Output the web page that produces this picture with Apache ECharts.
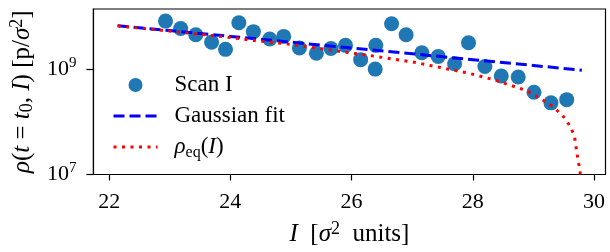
<!DOCTYPE html>
<html>
<head>
<meta charset="utf-8">
<script src="https://cdn.jsdelivr.net/npm/echarts@6/dist/echarts.min.js"></script>
<style>
  html, body { margin: 0; padding: 0; background: #fff; }
  #chart { width: 610px; height: 252px; }
</style>
</head>
<body>
<div id="chart"></div>
<script>
// Scan I measurements (I in sigma^2 units, rho in p/sigma^2)
var scanX = [22.93, 23.18, 23.43, 23.69, 23.92, 24.14, 24.38, 24.65, 24.88, 25.14,
  25.42, 25.66, 25.90, 26.15, 26.40, 26.39, 26.66, 26.90, 27.16, 27.43,
  27.70, 27.93, 28.20, 28.47, 28.75, 29.01, 29.29, 29.55];
var scanY = [8.13e9, 5.89e9, 4.47e9, 3.24e9, 2.37e9, 7.59e9, 5.13e9, 3.72e9, 4.17e9, 2.51e9,
  2.0e9, 2.45e9, 2.82e9, 1.51e9, 2.82e9, 1.0e9, 7.24e9, 4.47e9, 2.04e9, 1.74e9,
  1.26e9, 3.16e9, 1.12e9, 7.41e8, 7.08e8, 3.63e8, 2.29e8, 2.63e8];

// Gaussian fit curve
var fitX = [22.14, 23, 24, 25, 26, 27, 28, 29, 29.8];
var fitY = [6.61e9, 5.37e9, 4.17e9, 3.24e9, 2.51e9, 1.95e9, 1.51e9, 1.17e9, 9.55e8];

// rho_eq(I) curve
var eqX = [22.14, 23, 24, 24.33, 25, 25.71, 26.4, 27.08, 27.3, 27.9, 28.34,
  28.89, 29.25, 29.47, 29.56, 29.63, 29.68, 29.70, 29.74, 29.77, 29.79];
var eqY = [6.61e9, 5.25e9, 3.98e9, 3.55e9, 2.95e9, 2.24e9, 1.74e9, 1.32e9, 1.17e9, 8.51e8, 6.31e8,
  3.89e8, 2.24e8, 1.38e8, 1.0e8, 7.24e7, 5.13e7, 3.55e7, 1.78e7, 1.2e7, 3.2e6];

var xTicks = [22, 24, 26, 28, 30];
var yTicks = [1e7, 1e9];

var FONT = "'Liberation Serif', serif";

function zipXY(xs, ys) {
  var out = [];
  for (let i = 0; i < xs.length; i++) {
    out.push([xs[i], ys[i]]);
  }
  return out;
}

function makeRich(size) {
  return {
    n: { fontFamily: FONT, fontSize: size, lineHeight: 28, color: "#000" },
    i: { fontFamily: FONT, fontSize: size, lineHeight: 28, fontStyle: "italic", color: "#000" },
    sup: { fontFamily: FONT, fontSize: Math.round(size * 0.7), lineHeight: 14, verticalAlign: "top", color: "#000" },
    sub: { fontFamily: FONT, fontSize: Math.round(size * 0.7), lineHeight: 14, verticalAlign: "bottom", color: "#000" }
  };
}

var legendNames = {
  "Scan I": "{n|Scan I}",
  "Gaussian fit": "{n|Gaussian fit}",
  "rho_eq": "{i|ρ}{sub|eq}{n|(}{i|I}{n|)}"
};

var dom = document.getElementById("chart");
var myChart = echarts.init(dom, null, { renderer: "canvas" });

var option = {
  animation: false,
  backgroundColor: "#fff",
  grid: {
    left: 92,
    right: 4.5,
    top: 9,
    bottom: 70,
    show: true,
    borderColor: "#000",
    borderWidth: 1.2,
    backgroundColor: "transparent"
  },
  legend: {
    orient: "vertical",
    left: 107,
    top: 66,
    itemWidth: 44,
    itemHeight: 14,
    itemGap: 3,
    lineStyle: { width: 3 },
    formatter: function (name) {
      return legendNames[name];
    },
    textStyle: {
      fontFamily: FONT,
      fontSize: 23,
      lineHeight: 24,
      padding: [0, 0, 0, 12],
      rich: makeRich(23)
    },
    data: [
      { name: "Scan I" },
      { name: "Gaussian fit", itemStyle: { opacity: 0 } },
      { name: "rho_eq", itemStyle: { opacity: 0 } }
    ]
  },
  xAxis: {
    type: "value",
    min: 21.74,
    max: 30.19,
    name: "{i|I}{n|  [}{i|σ}{sup|2}{n|  units]}",
    nameLocation: "middle",
    nameGap: 46,
    nameTextStyle: { rich: makeRich(25) },
    splitLine: { show: false },
    axisLine: { lineStyle: { color: "#000", width: 1.2 } },
    axisTick: { length: 6, lineStyle: { color: "#000", width: 1.2 }, customValues: xTicks },
    axisLabel: {
      customValues: xTicks,
      margin: 17,
      fontFamily: FONT,
      fontSize: 22,
      color: "#000"
    }
  },
  yAxis: {
    type: "log",
    logBase: 10,
    min: 1e7,
    max: 1.38e10,
    name: "{i|ρ}{n|(}{i|t}{n| = }{i|t}{sub|0}{n|, }{i|I}{n|) [p/}{i|σ}{sup|2}{n|]}",
    nameLocation: "middle",
    nameGap: 48,
    nameRotate: 90,
    nameTextStyle: { rich: makeRich(25) },
    splitLine: { show: false },
    axisLine: { lineStyle: { color: "#000", width: 1.2 } },
    axisTick: { length: 7, lineStyle: { color: "#000", width: 1.2 }, customValues: yTicks },
    axisLabel: {
      customValues: yTicks,
      margin: 17,
      formatter: function (v) {
        return "{n|10}{sup|" + Math.round(Math.log10(v)) + "}";
      },
      rich: makeRich(22)
    }
  },
  series: [
    {
      name: "Scan I",
      type: "scatter",
      data: zipXY(scanX, scanY),
      symbol: "circle",
      symbolSize: 15,
      itemStyle: { color: "#1f77b4", opacity: 1 },
      z: 2
    },
    {
      name: "Gaussian fit",
      type: "line",
      data: zipXY(fitX, fitY),
      symbol: "none",
      smooth: false,
      lineStyle: { color: "#0000ff", width: 3, type: [11, 5] },
      itemStyle: { color: "#0000ff" },
      z: 3
    },
    {
      name: "rho_eq",
      type: "line",
      data: zipXY(eqX, eqY),
      symbol: "none",
      smooth: false,
      lineStyle: { color: "#ff0000", width: 3, type: [3, 5.5] },
      itemStyle: { color: "#ff0000" },
      z: 4
    }
  ]
};

myChart.setOption(option);
</script>
</body>
</html>
